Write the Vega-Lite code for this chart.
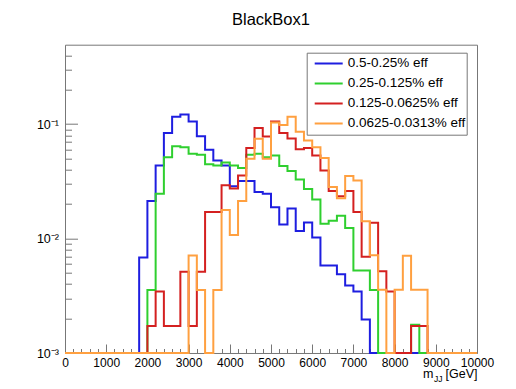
{
  "$schema": "https://vega.github.io/schema/vega-lite/v6.json",
  "width": 412,
  "height": 308.3,
  "autosize": {"type": "none"},
  "padding": {"left": 65, "top": 44.7, "right": 39, "bottom": 36},
  "background": "white",
  "title": {"text": "BlackBox1", "fontSize": 16.5, "fontWeight": "normal", "font": "Liberation Sans", "color": "black", "anchor": "middle", "baseline": "alphabetic", "offset": 3},
  "data": {"values": [
    {"m": 0, "b": 0.001, "g": 0.001, "r": 0.001, "o": 0.001},
    {"m": 200, "b": 0.001, "g": 0.001, "r": 0.001, "o": 0.001},
    {"m": 400, "b": 0.001, "g": 0.001, "r": 0.001, "o": 0.001},
    {"m": 600, "b": 0.001, "g": 0.001, "r": 0.001, "o": 0.001},
    {"m": 800, "b": 0.001, "g": 0.001, "r": 0.001, "o": 0.001},
    {"m": 1000, "b": 0.001, "g": 0.001, "r": 0.001, "o": 0.001},
    {"m": 1200, "b": 0.001, "g": 0.001, "r": 0.001, "o": 0.001},
    {"m": 1400, "b": 0.001, "g": 0.001, "r": 0.001, "o": 0.001},
    {"m": 1600, "b": 0.001, "g": 0.001, "r": 0.001, "o": 0.001},
    {"m": 1800, "b": 0.00682, "g": 0.001, "r": 0.001, "o": 0.001},
    {"m": 2000, "b": 0.0213, "g": 0.00356, "r": 0.00172, "o": 0.001},
    {"m": 2200, "b": 0.0436, "g": 0.0247, "r": 0.00344, "o": 0.001},
    {"m": 2400, "b": 0.0839, "g": 0.0514, "r": 0.00172, "o": 0.001},
    {"m": 2600, "b": 0.1164, "g": 0.0642, "r": 0.00172, "o": 0.001},
    {"m": 2800, "b": 0.1213, "g": 0.0629, "r": 0.00514, "o": 0.001},
    {"m": 3000, "b": 0.1054, "g": 0.0551, "r": 0.00172, "o": 0.00711},
    {"m": 3200, "b": 0.0784, "g": 0.054, "r": 0.00514, "o": 0.00356},
    {"m": 3400, "b": 0.0597, "g": 0.0447, "r": 0.01706, "o": 0.001},
    {"m": 3600, "b": 0.0482, "g": 0.0436, "r": 0.01706, "o": 0.00356},
    {"m": 3800, "b": 0.0436, "g": 0.0463, "r": 0.0292, "o": 0.01774},
    {"m": 4000, "b": 0.0286, "g": 0.0436, "r": 0.0274, "o": 0.01073},
    {"m": 4200, "b": 0.0318, "g": 0.0413, "r": 0.0356, "o": 0.0213},
    {"m": 4400, "b": 0.0318, "g": 0.054, "r": 0.0619, "o": 0.0498},
    {"m": 4600, "b": 0.0255, "g": 0.0551, "r": 0.0928, "o": 0.0745},
    {"m": 4800, "b": 0.0247, "g": 0.0514, "r": 0.078, "o": 0.0498},
    {"m": 5000, "b": 0.0188, "g": 0.0533, "r": 0.1054, "o": 0.1033},
    {"m": 5200, "b": 0.0133, "g": 0.0431, "r": 0.0836, "o": 0.0982},
    {"m": 5400, "b": 0.0183, "g": 0.039, "r": 0.0749, "o": 0.1164},
    {"m": 5600, "b": 0.01165, "g": 0.0329, "r": 0.0603, "o": 0.0857},
    {"m": 5800, "b": 0.0138, "g": 0.0271, "r": 0.0619, "o": 0.0719},
    {"m": 6000, "b": 0.0102, "g": 0.022, "r": 0.0533, "o": 0.0629},
    {"m": 6200, "b": 0.00582, "g": 0.0135, "r": 0.0394, "o": 0.0506},
    {"m": 6400, "b": 0.00582, "g": 0.0143, "r": 0.0261, "o": 0.0282},
    {"m": 6600, "b": 0.00488, "g": 0.0158, "r": 0.0234, "o": 0.0225},
    {"m": 6800, "b": 0.00389, "g": 0.0124, "r": 0.0261, "o": 0.0353},
    {"m": 7000, "b": 0.00344, "g": 0.00526, "r": 0.01706, "o": 0.0322},
    {"m": 7200, "b": 0.00196, "g": 0.00526, "r": 0.00694, "o": 0.01415},
    {"m": 7400, "b": 0.001, "g": 0.00356, "r": 0.01374, "o": 0.00715},
    {"m": 7600, "b": 0.001, "g": 0.001, "r": 0.00519, "o": 0.00357},
    {"m": 7800, "b": 0.001, "g": 0.001, "r": 0.00344, "o": 0.001},
    {"m": 8000, "b": 0.001, "g": 0.001, "r": 0.001, "o": 0.00357},
    {"m": 8200, "b": 0.001, "g": 0.001, "r": 0.001, "o": 0.00708},
    {"m": 8400, "b": 0.001, "g": 0.00177, "r": 0.00172, "o": 0.00357},
    {"m": 8600, "b": 0.001, "g": 0.001, "r": 0.00172, "o": 0.00357},
    {"m": 8800, "b": 0.001, "g": 0.001, "r": 0.001, "o": 0.001},
    {"m": 9000, "b": 0.001, "g": 0.001, "r": 0.001, "o": 0.001},
    {"m": 9200, "b": 0.001, "g": 0.001, "r": 0.001, "o": 0.001},
    {"m": 9400, "b": 0.001, "g": 0.001, "r": 0.001, "o": 0.001},
    {"m": 9600, "b": 0.001, "g": 0.001, "r": 0.001, "o": 0.001},
    {"m": 9800, "b": 0.001, "g": 0.001, "r": 0.001, "o": 0.001},
    {"m": 10000, "b": 0.001, "g": 0.001, "r": 0.001, "o": 0.001}
  ]},
  "transform": [{"fold": ["b", "g", "r", "o"], "as": ["k", "v"]}],
  "layer": [
    {
      "mark": {"type": "line", "interpolate": "step-after", "strokeWidth": 2},
      "encoding": {
        "x": {"field": "m", "type": "quantitative",
          "scale": {"domain": [0, 10000], "nice": false, "zero": false},
          "axis": {"orient": "bottom", "values": [0, 1000, 2000, 3000, 4000, 5000, 6000, 7000, 8000, 9000, 10000], "format": "d",
            "tickSize": -9, "labelPadding": 13, "labelFontSize": 12, "labelFlush": false, "labelOverlap": false,
            "title": "[GeV]", "titleX": 412, "titleY": 24.5, "titleAlign": "right", "titleBaseline": "alphabetic", "titleFontSize": 12.5}},
        "y": {"field": "v", "type": "quantitative",
          "scale": {"type": "log", "domain": [0.001, 0.495], "nice": false},
          "axis": {"orient": "left", "values": [0.001, 0.01, 0.1], "tickSize": -12.5, "labelPadding": 19, "labelFontSize": 12.5, "labelFlush": false, "labelOverlap": false,
            "labelExpr": "datum.value < 0.005 ? '10\u207b\u00b3' : datum.value < 0.05 ? '10\u207b\u00b2' : '10\u207b\u00b9'", "title": null}},
        "color": {"field": "k", "type": "nominal",
          "scale": {"domain": ["b", "g", "r", "o"], "range": ["#1e1ee0", "#2fcf2f", "#d42020", "#ffa040"]},
          "legend": {"title": null, "orient": "none", "legendX": 241.7, "legendY": 8,
            "symbolType": "stroke", "symbolSize": 784, "symbolStrokeWidth": 2, "clipHeight": 19.5, "rowPadding": 0,
            "labelFontSize": 13.5, "labelFont": "Liberation Sans", "labelColor": "black", "labelOffset": 4, "symbolOffset": 6,
            "padding": 1, "strokeColor": "#777", "fillColor": "white",
            "labelExpr": "datum.value == 'b' ? '0.5-0.25% eff' : datum.value == 'g' ? '0.25-0.125% eff' : datum.value == 'r' ? '0.125-0.0625% eff' : '0.0625-0.0313% eff'"}}
      }
    },
    {
      "mark": {"type": "point", "opacity": 0},
      "encoding": {
        "x": {"field": "m", "type": "quantitative",
          "axis": {"orient": "bottom", "values": [200, 400, 600, 800, 1200, 1400, 1600, 1800, 2200, 2400, 2600, 2800, 3200, 3400, 3600, 3800, 4200, 4400, 4600, 4800, 5200, 5400, 5600, 5800, 6200, 6400, 6600, 6800, 7200, 7400, 7600, 7800, 8200, 8400, 8600, 8800, 9200, 9400, 9600, 9800],
            "tickSize": -4.5, "labels": false,
            "title": "m", "titleX": 368, "titleY": 24.5, "titleAlign": "right", "titleBaseline": "alphabetic", "titleFontSize": 12.5}},
        "y": {"field": "v", "type": "quantitative",
          "axis": {"orient": "left", "values": [0.002, 0.003, 0.004, 0.005, 0.006, 0.007, 0.008, 0.009, 0.02, 0.03, 0.04, 0.05, 0.06, 0.07, 0.08, 0.09, 0.2, 0.3, 0.4],
            "tickSize": -6.5, "labels": false, "title": null}}
      }
    },
    {
      "mark": {"type": "point", "opacity": 0},
      "encoding": {
        "x": {"field": "m", "type": "quantitative",
          "axis": {"orient": "bottom", "values": [], "ticks": false, "labels": false,
            "title": "JJ", "titleX": 368.5, "titleY": 28.5, "titleAlign": "left", "titleBaseline": "alphabetic", "titleFontSize": 8.5}}
      }
    }
  ],
  "resolve": {"axis": {"x": "independent", "y": "independent"}},
  "config": {
    "font": "Liberation Sans",
    "view": {"stroke": "#777", "strokeWidth": 1},
    "axis": {"domain": false, "grid": false, "tickColor": "#777", "tickWidth": 1, "labelColor": "black", "titleColor": "black", "titleFontWeight": "normal", "labelFont": "Liberation Sans", "titleFont": "Liberation Sans"}
  }
}
